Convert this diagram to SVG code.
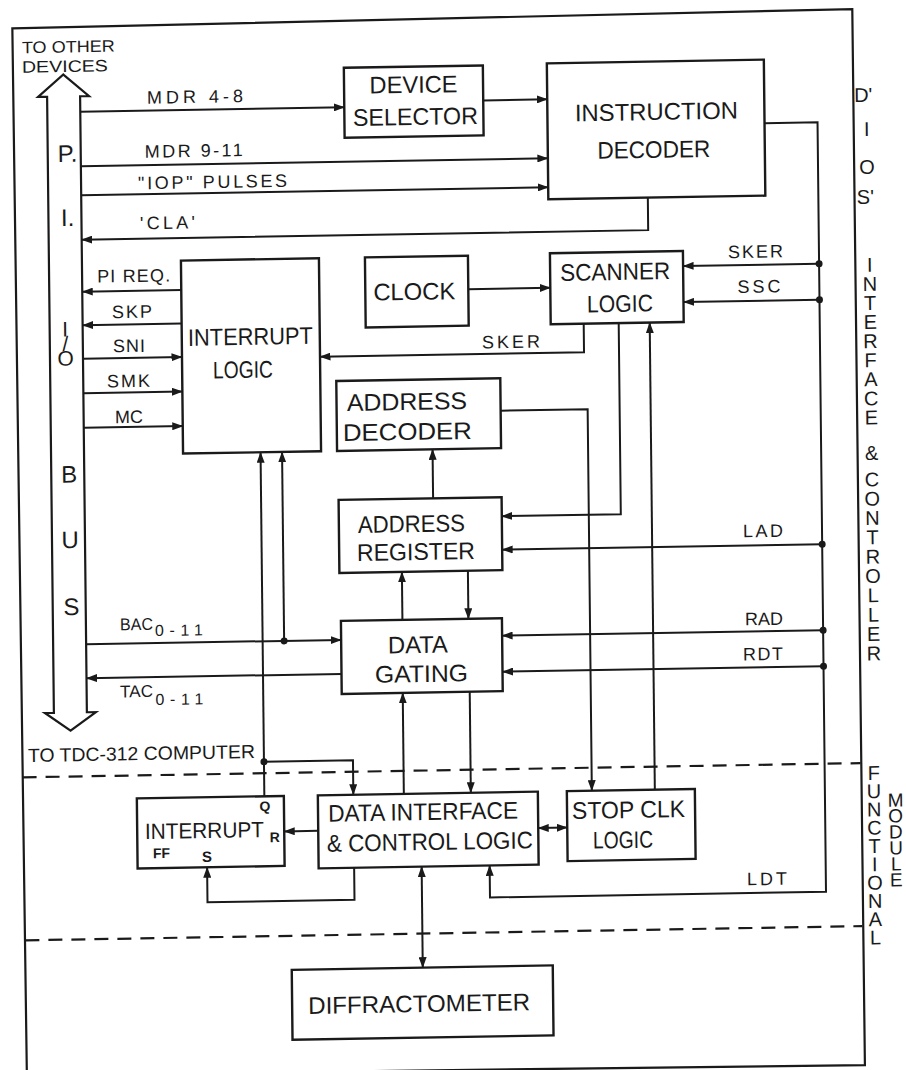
<svg xmlns="http://www.w3.org/2000/svg" width="906" height="1070" viewBox="0 0 906 1070">
<defs>
<style>
.ln{fill:none;stroke:#1a1a1a;stroke-width:2}
.bx{fill:none;stroke:#1a1a1a;stroke-width:2.4}
.fr{fill:none;stroke:#1a1a1a;stroke-width:2.2}
.dash{fill:none;stroke:#1a1a1a;stroke-width:2.2;stroke-dasharray:14 9}
.dot{fill:#1a1a1a}
text{font-family:"Liberation Sans",Arial,"DejaVu Sans",sans-serif;fill:#1a1a1a}
.bt{font-size:24px;text-anchor:middle}
.lb{font-size:18px}
.bus{font-size:24px}
.vt{font-size:20px;text-anchor:middle}
.vv{font-size:20px;writing-mode:vertical-rl;text-orientation:upright}
.sm{font-size:14px;font-weight:bold}
</style>
<marker id="ah" viewBox="0 0 11 8" refX="10.5" refY="4" markerWidth="11" markerHeight="8" markerUnits="userSpaceOnUse" orient="auto-start-reverse"><path d="M0,0 L11,4 L0,8 z" fill="#1a1a1a"/></marker>
</defs>
<rect width="906" height="1070" fill="#fff"/>
<g transform="matrix(1,-0.017,0.011,1,-5.885,7.701)">
<g id="frame">
<path class="fr" d="M18,21 L858,16 L859,1072 L21,1068 Z"/>
<path class="dash" d="M20,770 H858"/>
<path class="dash" d="M21,933 H858"/>
</g>
<g id="pi-io-bus">
<path class="fr" d="M68.5,68 L94,90 L85,90 L85,706 L94,706 L68.5,724 L43,706 L52,706 L52,90 L43,90 Z" fill="#fff"/>
<text class="bus" x="62" y="155.4">P.</text>
<text class="bus" x="64.5" y="219.5">I.</text>
<text class="vv" style="font-size:21px" x="67.5" y="311" textLength="52">I/O</text>
<text class="bus" x="69.8" y="476" text-anchor="middle">B</text>
<text class="bus" x="70" y="541.5" text-anchor="middle">U</text>
<text class="bus" x="70.6" y="608.6" text-anchor="middle">S</text>
<text style="font-size:16.5px" x="27.3" y="46" textLength="93" lengthAdjust="spacingAndGlyphs">TO OTHER</text>
<text style="font-size:16.5px" x="27.1" y="65.5" textLength="86" lengthAdjust="spacingAndGlyphs">DEVICES</text>
<text style="font-size:19px" x="25.5" y="754.7" textLength="227" lengthAdjust="spacingAndGlyphs">TO TDC-312 COMPUTER</text>
</g>
<g id="device-selector">
<rect class="bx" x="349" y="66" width="139" height="70"/>
<text class="bt" x="418.5" y="92.3" textLength="88" lengthAdjust="spacingAndGlyphs">DEVICE</text>
<text class="bt" x="420" y="124.4" textLength="125" lengthAdjust="spacingAndGlyphs">SELECTOR</text>
</g>
<g id="instruction-decoder">
<rect class="bx" x="552" y="65" width="217" height="136"/>
<text class="bt" x="661" y="123.5" textLength="163" lengthAdjust="spacingAndGlyphs">INSTRUCTION</text>
<text class="bt" x="658" y="161.4" textLength="113" lengthAdjust="spacingAndGlyphs">DECODER</text>
</g>
<g id="clock">
<rect class="bx" x="368" y="256" width="103" height="70"/>
<text class="bt" x="417" y="299.3" textLength="82" lengthAdjust="spacingAndGlyphs">CLOCK</text>
</g>
<g id="scanner-logic">
<rect class="bx" x="553" y="255" width="133" height="71"/>
<text class="bt" x="618" y="282.8" textLength="110" lengthAdjust="spacingAndGlyphs">SCANNER</text>
<text class="bt" x="622.5" y="314.8" textLength="66" lengthAdjust="spacingAndGlyphs">LOGIC</text>
</g>
<g id="interrupt-logic">
<rect class="bx" x="184" y="256" width="138" height="193"/>
<text class="bt" x="252.6" y="341.5" textLength="125" lengthAdjust="spacingAndGlyphs">INTERRUPT</text>
<text class="bt" x="244.7" y="374.4" textLength="60" lengthAdjust="spacingAndGlyphs">LOGIC</text>
</g>
<g id="address-decoder">
<rect class="bx" x="338" y="379" width="164" height="70"/>
<text class="bt" x="408.4" y="409.2" textLength="120" lengthAdjust="spacingAndGlyphs">ADDRESS</text>
<text class="bt" x="408.5" y="439.2" textLength="129" lengthAdjust="spacingAndGlyphs">DECODER</text>
</g>
<g id="address-register">
<rect class="bx" x="339" y="498" width="163" height="73"/>
<text class="bt" x="411.5" y="531.4" textLength="107" lengthAdjust="spacingAndGlyphs">ADDRESS</text>
<text class="bt" x="415.7" y="559.4" textLength="118" lengthAdjust="spacingAndGlyphs">REGISTER</text>
</g>
<g id="data-gating">
<rect class="bx" x="340" y="619" width="161" height="73"/>
<text class="bt" x="416.7" y="652.4" textLength="60" lengthAdjust="spacingAndGlyphs">DATA</text>
<text class="bt" x="420" y="681.5" textLength="93" lengthAdjust="spacingAndGlyphs">GATING</text>
</g>
<g id="interrupt-ff">
<rect class="bx" x="134" y="793" width="147" height="70"/>
<text style="font-size:22px" x="141.7" y="833.8" textLength="119" lengthAdjust="spacingAndGlyphs">INTERRUPT</text>
<text class="sm" x="266.5" y="839">R</text>
<text class="sm" x="262" y="808" text-anchor="middle">Q</text>
<text class="sm" x="149.4" y="853">FF</text>
<text class="sm" style="font-size:15px" x="198.4" y="857.7">S</text>
</g>
<g id="data-interface-control-logic">
<rect class="bx" x="315" y="793" width="220" height="73"/>
<text class="bt" x="420" y="819.5" textLength="190" lengthAdjust="spacingAndGlyphs">DATA INTERFACE</text>
<text class="bt" x="426.5" y="849.6" textLength="206" lengthAdjust="spacingAndGlyphs">&amp; CONTROL LOGIC</text>
</g>
<g id="stop-clk-logic">
<rect class="bx" x="564" y="793" width="128" height="70"/>
<text class="bt" x="625.4" y="821" textLength="113" lengthAdjust="spacingAndGlyphs">STOP CLK</text>
<text class="bt" x="619.6" y="850.9" textLength="60" lengthAdjust="spacingAndGlyphs">LOGIC</text>
</g>
<g id="diffractometer">
<rect class="bx" x="287" y="967" width="261" height="70"/>
<text class="bt" x="414" y="1011.4" textLength="222" lengthAdjust="spacingAndGlyphs">DIFFRACTOMETER</text>
</g>
<g id="connectors">
<path class="ln" d="M85,105.5 H349" marker-end="url(#ah)"/>
<path class="ln" d="M488,101 H552" marker-end="url(#ah)"/>
<path class="ln" d="M85,160 H552" marker-end="url(#ah)"/>
<path class="ln" d="M85,189 H552" marker-end="url(#ah)"/>
<path class="ln" d="M651.5,201 V233.5 H85" marker-end="url(#ah)"/>
<path class="ln" d="M769,128.5 H822 V898 H486 V866" marker-end="url(#ah)"/>
<path class="ln" d="M822,270 H686" marker-end="url(#ah)"/>
<path class="ln" d="M822,306 H686" marker-end="url(#ah)"/>
<path class="ln" d="M822,550.5 H502" marker-end="url(#ah)"/>
<path class="ln" d="M822,636.5 H501" marker-end="url(#ah)"/>
<path class="ln" d="M822,672.5 H501" marker-end="url(#ah)"/>
<path class="ln" d="M471,289.5 H553" marker-end="url(#ah)"/>
<path class="ln" d="M586,326 V354.5 H322" marker-end="url(#ah)"/>
<path class="ln" d="M184,285.5 H85" marker-end="url(#ah)"/>
<path class="ln" d="M184,319 H85" marker-end="url(#ah)"/>
<path class="ln" d="M85,352.5 H184" marker-end="url(#ah)"/>
<path class="ln" d="M85,387 H184" marker-end="url(#ah)"/>
<path class="ln" d="M85,421.5 H184" marker-end="url(#ah)"/>
<path class="ln" d="M261.5,793 V449" marker-end="url(#ah)"/>
<path class="ln" d="M261.5,758.5 H350.5 V793" marker-end="url(#ah)"/>
<path class="ln" d="M283,638 V449" marker-end="url(#ah)"/>
<path class="ln" d="M85,638 H340" marker-end="url(#ah)"/>
<path class="ln" d="M340,672 H85" marker-end="url(#ah)"/>
<path class="ln" d="M502,411.5 H589 V793" marker-end="url(#ah)"/>
<path class="ln" d="M433.5,498 V449" marker-end="url(#ah)"/>
<path class="ln" d="M621,326 V517 H502" marker-end="url(#ah)"/>
<path class="ln" d="M652,793 V326" marker-end="url(#ah)"/>
<path class="ln" d="M401.5,619 V571" marker-end="url(#ah)"/>
<path class="ln" d="M467.5,571 V619" marker-end="url(#ah)"/>
<path class="ln" d="M401,793 V692" marker-end="url(#ah)"/>
<path class="ln" d="M468,692 V793" marker-end="url(#ah)"/>
<path class="ln" d="M315,828.5 H281" marker-end="url(#ah)"/>
<path class="ln" d="M350.5,866 V898 H203.5 V863" marker-end="url(#ah)"/>
<path class="ln" d="M418,866 V967" marker-start="url(#ah)" marker-end="url(#ah)"/>
<path class="ln" d="M535,829.5 H564" marker-start="url(#ah)" marker-end="url(#ah)"/>
<circle class="dot" cx="822" cy="270" r="3.5"/>
<circle class="dot" cx="822" cy="306" r="3.5"/>
<circle class="dot" cx="822" cy="550.5" r="3.5"/>
<circle class="dot" cx="822" cy="636.5" r="3.5"/>
<circle class="dot" cx="822" cy="672.5" r="3.5"/>
<circle class="dot" cx="261.5" cy="758.5" r="3.5"/>
<circle class="dot" cx="283" cy="638" r="3.5"/>
</g>
<g id="connector-labels">
<text class="lb" x="151.7" y="98.6" textLength="96">MDR 4-8</text>
<text class="lb" x="149" y="152.6" textLength="98">MDR 9-11</text>
<text class="lb" x="142" y="184" textLength="149">"IOP" PULSES</text>
<text class="lb" x="143.4" y="224.2" textLength="55">'CLA'</text>
<text class="lb" x="731" y="263" textLength="55">SKER</text>
<text class="lb" x="740" y="298" textLength="43">SSC</text>
<text class="lb" x="484" y="349" textLength="58">SKER</text>
<text class="lb" x="100" y="276.6" textLength="73">PI REQ.</text>
<text class="lb" x="114.4" y="312.6" textLength="40">SKP</text>
<text class="lb" x="115" y="346.6" textLength="32">SNI</text>
<text class="lb" x="108.6" y="381.6" textLength="43">SMK</text>
<text class="lb" x="116.2" y="417.6" textLength="28">MC</text>
<text class="lb" x="743" y="542.3" textLength="40">LAD</text>
<text class="lb" x="744" y="630.3" textLength="38">RAD</text>
<text class="lb" x="741.6" y="665.3" textLength="40">RDT</text>
<text class="lb" x="743.2" y="890.3" textLength="40">LDT</text>
<text style="font-size:17px" x="119" y="624.7" textLength="33" lengthAdjust="spacingAndGlyphs">BAC</text>
<text style="font-size:16px" x="153.9" y="631" textLength="48">0-11</text>
<text style="font-size:17px" x="118.4" y="691.7" textLength="33" lengthAdjust="spacingAndGlyphs">TAC</text>
<text style="font-size:16px" x="153.6" y="700" textLength="48">0-11</text>
</g>
<g id="side-labels">
<text class="vt"><tspan x="868" y="109">D'</tspan><tspan x="871" y="143">I</tspan><tspan x="871" y="181">O</tspan><tspan x="869" y="211">S'</tspan></text>
<text class="vv" x="872.5" y="260.9" textLength="174.6">INTERFACE</text>
<text class="vt" x="872.5" y="467">&amp;</text>
<text class="vv" x="872.5" y="475.4" textLength="196">CONTROLLER</text>
<text class="vv" x="871" y="768.9" textLength="186.7">FUNCTIONAL</text>
<text class="vv" style="font-size:19px" x="892.5" y="797" textLength="100.8">MODULE</text>
</g>
</g>
</svg>
